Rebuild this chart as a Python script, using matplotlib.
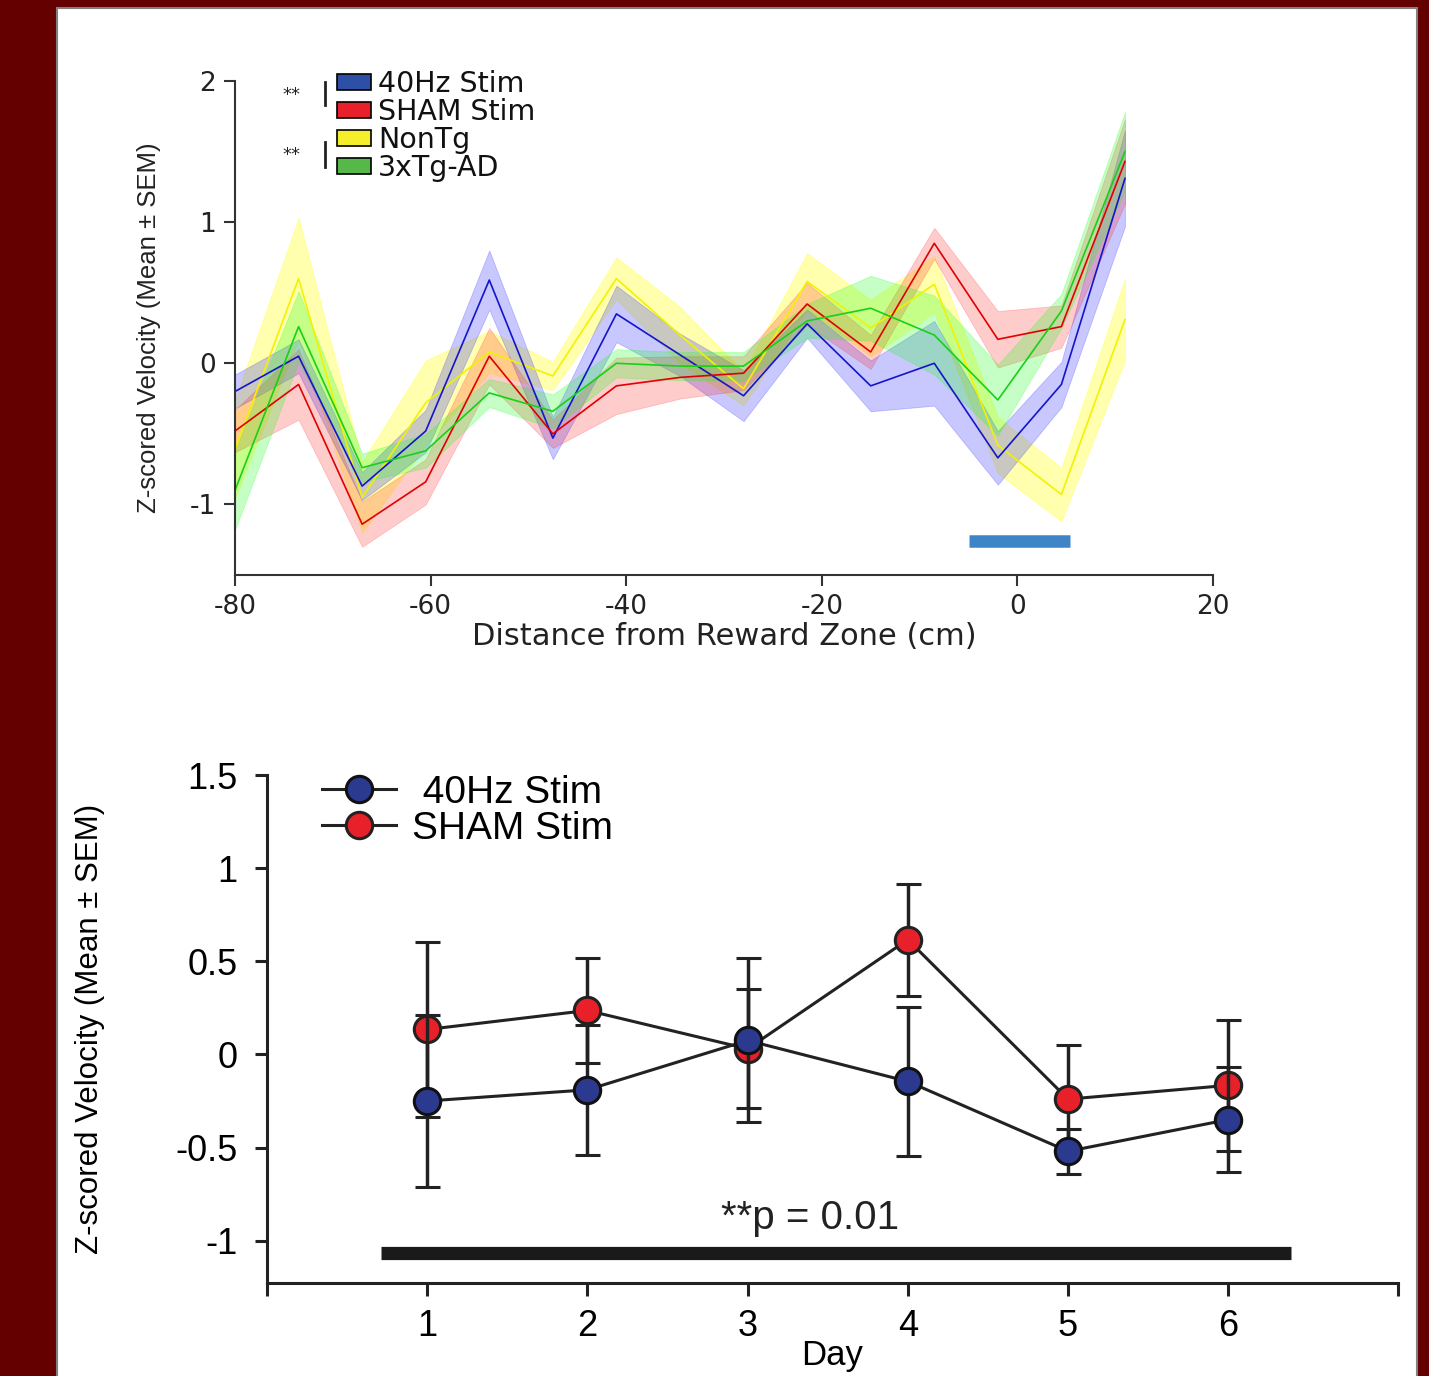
import matplotlib
matplotlib.use("Agg")
import matplotlib.pyplot as plt
from matplotlib.patches import Patch, Rectangle
from matplotlib.lines import Line2D

# ---------------- data: top panel ----------------
distance = [-80, -73.5, -67, -60.5, -54, -47.5, -41, -34.5, -28, -21.5, -15, -8.5, -2, 4.5, 11]
stim40_mean = [-0.2, 0.05, -0.87, -0.48, 0.59, -0.53, 0.35, 0.06, -0.23, 0.28, -0.16, 0.0, -0.67, -0.15, 1.31]
stim40_sem = [0.12, 0.12, 0.1, 0.15, 0.21, 0.15, 0.2, 0.15, 0.18, 0.1, 0.18, 0.3, 0.19, 0.16, 0.34]
sham_mean = [-0.48, -0.15, -1.14, -0.84, 0.05, -0.5, -0.16, -0.1, -0.07, 0.42, 0.08, 0.85, 0.17, 0.26, 1.43]
sham_sem = [0.15, 0.25, 0.16, 0.16, 0.2, 0.1, 0.2, 0.15, 0.12, 0.15, 0.12, 0.11, 0.2, 0.15, 0.3]
nontg_mean = [-0.61, 0.6, -0.95, -0.28, 0.08, -0.09, 0.6, 0.2, -0.18, 0.58, 0.25, 0.56, -0.58, -0.93, 0.31]
nontg_sem = [0.35, 0.43, 0.25, 0.3, 0.15, 0.1, 0.15, 0.2, 0.12, 0.2, 0.2, 0.2, 0.2, 0.19, 0.29]
tg_mean = [-0.9, 0.26, -0.74, -0.62, -0.21, -0.34, 0.0, -0.02, -0.02, 0.3, 0.39, 0.2, -0.26, 0.37, 1.5]
tg_sem = [0.28, 0.25, 0.1, 0.12, 0.1, 0.12, 0.1, 0.1, 0.1, 0.12, 0.23, 0.28, 0.25, 0.12, 0.28]
top_labels = ["40Hz Stim", "SHAM Stim", "NonTg", "3xTg-AD"]
reward_zone = [-5, 5.4]
reward_y = -1.26
top_xticks = [-80, -60, -40, -20, 0, 20]
top_yticks = [-1, 0, 1, 2]

# ---------------- data: bottom panel ----------------
days = [1, 2, 3, 4, 5, 6]
day_stim40 = [-0.25, -0.19, 0.075, -0.145, -0.52, -0.35]
day_stim40_err = [0.46, 0.35, 0.44, 0.40, 0.12, 0.28]
day_sham = [0.134, 0.236, 0.03, 0.616, -0.24, -0.166]
day_sham_err = [0.47, 0.28, 0.32, 0.30, 0.29, 0.35]
sig_span = [0.71, 6.39]
sig_y = -1.066
sig_text = "**p = 0.01"
bottom_yticks = [-1, -0.5, 0, 0.5, 1, 1.5]
bottom_yticklabels = ["-1", "-0.5", "0", "0.5", "1", "1.5"]

W, H = 1429, 1376
fig = plt.figure(figsize=(W / 100, H / 100), dpi=100)
fig.patch.set_facecolor("#640000")
fig.patches.append(Rectangle((57 / W, -0.01), (1417 - 57) / W, 1.01 - 8 / H, transform=fig.transFigure,
                             facecolor="white", edgecolor="#808080", linewidth=1.5, zorder=-10))

narrow = ["Liberation Sans Narrow", "Liberation Sans", "DejaVu Sans"]
wide = ["DejaVu Sans"]
arial = ["Liberation Sans", "DejaVu Sans"]
spine_col = "#333333"

# ---------------- top axes ----------------
ax1 = fig.add_axes([235 / W, 1 - 575 / H, (1213 - 235) / W, (575 - 81) / H])
ax1.set_facecolor("none")
ax1.set_xlim(-80, 20)
ax1.set_ylim(-1.5, 2)
for s in ["top", "right"]:
    ax1.spines[s].set_visible(False)
for s in ["left", "bottom"]:
    ax1.spines[s].set_color(spine_col)
    ax1.spines[s].set_linewidth(1.5)

series = [
    (nontg_mean, nontg_sem, "#f2f200", (1, 1, 0), 0.32),
    (stim40_mean, stim40_sem, "#1515c8", (0.15, 0.15, 1), 0.25),
    (sham_mean, sham_sem, "#e00000", (1, 0.1, 0.1), 0.22),
    (tg_mean, tg_sem, "#18d018", (0.1, 1, 0.1), 0.25),
]
for m, s, lc, fc, a in series:
    lo = [mi - si for mi, si in zip(m, s)]
    hi = [mi + si for mi, si in zip(m, s)]
    ax1.fill_between(distance, lo, hi, color=fc, alpha=a, linewidth=0.6, edgecolor=fc)
    ax1.plot(distance, m, color=lc, linewidth=1.2)

ax1.plot(reward_zone, [reward_y, reward_y], color="#3d85c6", linewidth=9, solid_capstyle="butt")

ax1.set_xticks(top_xticks)
ax1.set_xticklabels([str(v) for v in top_xticks], fontsize=19, family=wide, color="#222222")
ax1.set_yticks(top_yticks)
ax1.set_yticklabels([str(v) for v in top_yticks], fontsize=19, family=wide, color="#222222")
ax1.tick_params(direction="out", length=8, width=1.5, color=spine_col, pad=6)
ax1.set_xlabel("Distance from Reward Zone (cm)", fontsize=22, family=wide, color="#222222")
ax1.xaxis.set_label_coords(0.5, -0.095)
ax1.set_ylabel("Z-scored Velocity (Mean \u00b1 SEM)", fontsize=18.5, family=narrow, color="#222222")
ax1.yaxis.set_label_coords(-0.076, 0.5)

handles = [Patch(facecolor=c, edgecolor="black", linewidth=1.2)
           for c in ["#2e4fa6", "#e8202a", "#f5ee2a", "#55b848"]]
leg1 = ax1.legend(handles, top_labels, loc="upper left", bbox_to_anchor=(0.104, 1.022),
                  frameon=False, handlelength=1.2, handleheight=0.5,
                  handletextpad=0.25, labelspacing=0.0, borderpad=0, borderaxespad=0,
                  prop={"family": wide, "size": 20.5})
for t in leg1.get_texts():
    t.set_color("#111111")
for ypos in [0.972, 0.85]:
    ax1.text(0.058, ypos, "**", transform=ax1.transAxes, fontsize=13, family=wide,
             ha="center", va="center", color="#222222")
for y0, y1 in [(0.998, 0.951), (0.877, 0.826)]:
    ax1.plot([0.092, 0.092], [y0, y1], transform=ax1.transAxes, color="#222222",
             linewidth=2, clip_on=False)

# ---------------- bottom axes ----------------
ax2 = fig.add_axes([267 / W, 1 - 1283 / H, (1398 - 267) / W, (1283 - 775) / H])
ax2.set_facecolor("none")
ax2.set_xlim(0, 7.06)
ax2.set_ylim(-1.227, 1.495)
for s in ["top", "right"]:
    ax2.spines[s].set_visible(False)
for s in ["left", "bottom"]:
    ax2.spines[s].set_color("#222222")
    ax2.spines[s].set_linewidth(2.2)

ax2.errorbar(days, day_sham, yerr=day_sham_err, fmt="-o", color="#222222", linewidth=2.2,
             elinewidth=2.5, capsize=9, capthick=2.5, markersize=19,
             markerfacecolor="#e8202a", markeredgecolor="#222222", markeredgewidth=2.2, zorder=3)
ax2.errorbar(days, day_stim40, yerr=day_stim40_err, fmt="-o", color="#222222", linewidth=2.2,
             elinewidth=2.5, capsize=9, capthick=2.5, markersize=19,
             markerfacecolor="#2b3a8f", markeredgecolor="#111111", markeredgewidth=2.2, zorder=4)

ax2.plot(sig_span, [sig_y, sig_y], color="#1a1a1a", linewidth=9.5, solid_capstyle="butt")
ax2.text(3.39, sig_y + 0.085, sig_text, fontsize=29, family=arial, ha="center",
         va="bottom", color="#222222")

ax2.set_xticks([0] + days + [7.06])
ax2.set_xticklabels([""] + [str(d) for d in days] + [""], fontsize=26, family=arial)
ax2.set_yticks(bottom_yticks)
ax2.set_yticklabels(bottom_yticklabels, fontsize=26, family=arial)
ax2.tick_params(direction="out", length=9, width=2.2, color="#222222", pad=12)
ax2.tick_params(axis="x", pad=10)
ax2.set_xlabel("Day", fontsize=25, family=arial)
ax2.xaxis.set_label_coords(0.5, -0.11)
ax2.set_ylabel("Z-scored Velocity (Mean \u00b1 SEM)", fontsize=22.5, family=narrow)
ax2.yaxis.set_label_coords(-0.143, 0.5)

h40 = Line2D([], [], color="#222222", linewidth=2.2, marker="o", markersize=19,
             markerfacecolor="#2b3a8f", markeredgecolor="#111111", markeredgewidth=2.2)
hsh = Line2D([], [], color="#222222", linewidth=2.2, marker="o", markersize=19,
             markerfacecolor="#e8202a", markeredgecolor="#222222", markeredgewidth=2.2)
ax2.legend([h40, hsh], [" 40Hz Stim", "SHAM Stim"], loc="upper left",
           bbox_to_anchor=(0.049, 1.0), frameon=False, handlelength=1.9,
           handletextpad=0.4, labelspacing=0.0, borderpad=0, borderaxespad=0,
           prop={"family": arial, "size": 28})

fig.savefig("out.png", dpi=100, facecolor=fig.get_facecolor())
